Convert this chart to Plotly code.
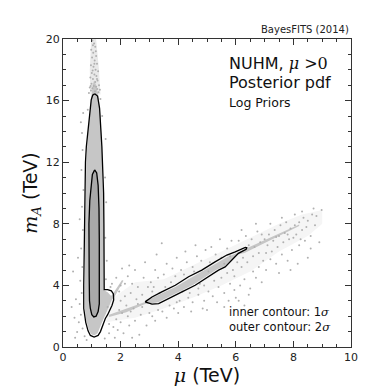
import plotly.graph_objects as go

# ---- 2-sigma contour of the vertical (mu ~ 1 TeV) region ----
vert_outer_mu = [1.10, 1.20, 1.27, 1.31, 1.35, 1.38, 1.41, 1.42, 1.43, 1.43, 1.43, 1.55, 1.68, 1.75, 1.76,
                 1.70, 1.62, 1.55, 1.47, 1.38, 1.30, 1.22, 1.08, 0.95, 0.87, 0.79, 0.74, 0.72, 0.72,
                 0.73, 0.75, 0.76, 0.78, 0.81, 0.86, 0.92, 0.98, 1.03, 1.10]
vert_outer_mA = [16.45, 16.3, 15.5, 14.5, 13.0, 11.5, 10.0, 8.0, 6.0, 4.5, 3.72, 3.72, 3.65, 3.45, 3.05,
                 2.70, 2.35, 2.10, 1.85, 1.40, 1.00, 0.75, 0.65, 0.75, 1.05, 1.60, 2.10, 2.50, 4.00,
                 6.00, 8.00, 10.0, 12.0, 13.0, 14.0, 15.2, 16.05, 16.35, 16.45]

# ---- 1-sigma contour of the vertical region ----
vert_inner_mu = [1.10, 1.17, 1.22, 1.25, 1.26, 1.27, 1.27, 1.26, 1.22, 1.15, 1.07, 1.00, 0.95, 0.92,
                 0.91, 0.90, 0.90, 0.93, 0.97, 1.02, 1.10]
vert_inner_mA = [11.5, 11.3, 10.5, 9.0, 7.0, 5.0, 3.5, 2.8, 2.3, 2.0, 1.95, 2.1, 2.5, 3.0,
                 4.5, 6.0, 8.0, 9.5, 10.5, 11.2, 11.5]

# ---- 2-sigma contour of the diagonal region ----
diag_outer_mu = [2.85, 3.09, 3.43, 3.90, 4.36, 4.82, 5.28, 5.69, 5.98, 6.33, 6.38, 6.36, 6.09, 5.86,
                 5.63, 5.40, 5.05, 4.59, 4.13, 3.66, 3.32, 3.09, 2.85]
diag_outer_mA = [2.93, 3.25, 3.58, 4.01, 4.56, 4.99, 5.53, 5.97, 6.18, 6.47, 6.45, 6.35, 6.08, 5.64,
                 5.20, 4.99, 4.56, 4.01, 3.58, 3.15, 2.82, 2.78, 2.93]

# ---- outlines of the dense parts of the sample cloud ----
vert_cloud_mu = [1.08, 1.15, 1.24, 1.30, 1.35, 1.38, 1.40, 1.41, 1.41, 1.41, 1.55, 1.68, 1.68, 1.60,
                 1.50, 1.40, 1.30, 1.20, 1.08, 0.97, 0.88, 0.80, 0.76, 0.75, 0.76, 0.77, 0.79, 0.81,
                 0.86, 0.93, 0.99, 1.03, 1.08]
vert_cloud_mA = [17.3, 17.0, 16.2, 15.0, 13.0, 11.0, 9.0, 7.0, 5.0, 3.7, 3.55, 3.3, 3.0, 2.6,
                 2.2, 1.8, 1.3, 0.9, 0.75, 0.85, 1.2, 1.8, 2.4, 4.0, 6.0, 8.0, 10.0, 12.0,
                 13.8, 15.2, 16.3, 17.0, 17.3]

diag_cloud_mu = [1.60, 2.20, 2.90, 3.10, 3.45, 3.90, 4.40, 4.85, 5.30, 5.70, 6.00, 6.30, 6.90, 7.50, 8.20,
                 8.20, 7.50, 6.90, 6.30, 6.05, 5.85, 5.60, 5.35, 5.00, 4.55, 4.10, 3.65, 3.30, 3.00,
                 2.85, 2.20, 1.60, 1.60]
diag_cloud_mA = [2.10, 2.50, 2.95, 3.20, 3.50, 3.90, 4.45, 4.90, 5.40, 5.85, 6.07, 6.35, 6.85, 7.35, 7.95,
                 7.85, 7.20, 6.65, 6.10, 6.00, 5.68, 5.25, 5.05, 4.62, 4.08, 3.65, 3.22, 2.90, 2.83,
                 2.80, 2.25, 1.95, 2.10]

streak_cloud_mu = [1.45, 1.75, 2.05, 2.10, 1.80, 1.50, 1.45]
streak_cloud_mA = [2.80, 3.50, 4.35, 4.30, 3.30, 2.60, 2.80]

# sparse-scatter envelopes (faint haze where the scan points thin out)
diag_core_haze_mu = [1.50, 2.50, 3.50, 4.50, 5.50, 6.50, 7.50, 8.50, 9.00, 9.00, 8.30, 7.50, 6.50,
                     5.50, 4.50, 3.50, 2.50, 1.60, 1.50]
diag_core_haze_mA = [1.60, 1.90, 2.50, 3.20, 4.00, 4.90, 6.20, 7.20, 8.00, 8.90, 8.60, 8.00, 7.10,
                     6.20, 5.30, 4.40, 4.20, 3.00, 1.60]
column_top_haze_mu = [0.95, 0.93, 0.98, 1.15, 1.25, 1.30, 0.95]
column_top_haze_mA = [16.4, 18.0, 20.0, 20.0, 18.0, 16.4, 16.4]

# ---- individually visible scan points (mu, m_A) in TeV ----
sparse_points = [
    (1.02, 19.9), (1.08, 19.7), (1.12, 19.5), (0.98, 19.3), (1.05, 19.1), (1.15, 18.9), (1.01, 18.8),
    (1.10, 18.6), (1.18, 18.4), (0.97, 18.3), (1.06, 18.2), (1.13, 18.0), (1.22, 17.9), (1.00, 17.8),
    (1.09, 17.7), (1.16, 17.6), (0.95, 17.5), (1.04, 17.4), (1.20, 17.3), (1.12, 17.2), (0.99, 17.1),
    (1.25, 17.0), (1.07, 16.95), (1.15, 16.9), (0.93, 16.85), (1.02, 16.8), (1.19, 16.75), (1.28, 16.7),
    (0.97, 16.65), (1.11, 16.6), (1.23, 16.55), (0.90, 16.5), (1.04, 19.6), (1.14, 19.2), (1.09, 18.4),
    (1.03, 17.95), (1.18, 17.4), (0.96, 16.95),
    (0.62, 14.6), (0.66, 13.9), (0.70, 15.2), (0.68, 12.8), (0.64, 11.5), (0.71, 10.2), (0.66, 9.1),
    (0.69, 7.6), (0.63, 6.4), (0.67, 5.2), (0.60, 4.3), (0.65, 3.5), (0.58, 2.8), (0.62, 2.1),
    (0.55, 1.6), (0.68, 1.2), (0.49, 0.98), (0.75, 0.7), (0.82, 0.45), (0.40, 1.9), (0.45, 3.1),
    (0.52, 5.8), (0.35, 4.9), (0.58, 8.3), (1.48, 13.5), (1.46, 11.0), (1.50, 9.4), (1.47, 7.1),
    (1.52, 5.6), (1.49, 4.4), (0.86, 15.4), (1.30, 16.1), (1.36, 15.0), (0.30, 2.6), (0.42, 0.6),
    (1.45, 0.55), (1.60, 0.9), (1.75, 1.3), (1.90, 1.1), (2.10, 0.9), (2.30, 1.4), (2.00, 1.6),
    (1.85, 1.8), (2.25, 2.0), (2.50, 1.7), (2.70, 2.1), (2.45, 2.5), (2.20, 2.7), (2.00, 3.0),
    (1.95, 3.6), (2.15, 3.3), (2.35, 3.5), (2.55, 3.1), (2.75, 3.4), (2.60, 3.9), (2.40, 4.1),
    (2.25, 4.6), (2.00, 4.0), (1.85, 4.5), (1.70, 4.1), (2.80, 4.5), (2.95, 3.9), (2.85, 5.5),
    (2.50, 5.0), (2.30, 5.3), (2.05, 5.1), (1.60, 1.5), (1.55, 2.6), (2.90, 1.4), (2.65, 0.8),
    (3.00, 2.2), (1.95, 2.4), (2.40, 0.6), (1.80, 0.6), (2.15, 4.1), (2.60, 2.8), (2.90, 3.0),
    (3.10, 2.0), (3.30, 2.4), (1.65, 3.9), (2.05, 2.2), (2.35, 2.3), (2.75, 2.6),
    (3.05, 4.2), (3.20, 5.0), (3.43, 6.73), (3.10, 3.6), (3.30, 4.5), (3.50, 4.7), (3.60, 5.4),
    (3.80, 5.1), (3.90, 4.6), (3.70, 2.7), (3.45, 2.3), (3.85, 2.5), (3.20, 1.7), (3.60, 1.9),
    (3.95, 2.9), (3.15, 3.9), (3.75, 4.2), (3.55, 3.9), (3.35, 3.5), (3.95, 5.8), (3.25, 6.0),
    (4.05, 3.0), (4.20, 2.6), (4.35, 3.2), (4.50, 2.9), (4.70, 3.4), (4.90, 3.0), (4.10, 5.0),
    (4.30, 5.5), (4.50, 5.2), (4.65, 5.9), (4.80, 5.6), (4.95, 6.3), (4.25, 6.2), (4.60, 6.6),
    (4.15, 3.6), (4.40, 3.5), (4.75, 4.1), (4.90, 4.0), (4.00, 2.2), (4.45, 2.3), (4.85, 2.5),
    (4.55, 4.9), (4.20, 4.7), (4.70, 3.8),
    (5.05, 3.6), (5.20, 3.3), (5.40, 3.9), (5.60, 3.5), (5.80, 4.1), (5.95, 3.7), (5.10, 5.5),
    (5.30, 6.0), (5.50, 5.8), (5.70, 6.4), (5.85, 6.9), (5.15, 6.5), (5.45, 7.0), (5.25, 4.3),
    (5.50, 4.5), (5.70, 4.8), (5.90, 5.0), (5.35, 2.9), (5.75, 3.0), (6.00, 3.2), (5.60, 5.4),
    (5.95, 4.6), (5.05, 4.9), (5.80, 5.9), (5.00, 2.4), (5.60, 2.6), (6.30, 2.7),
    (6.10, 3.0), (6.15, 4.0), (6.30, 4.4), (6.50, 3.8), (6.70, 4.5), (6.90, 4.2), (6.20, 5.2),
    (6.40, 5.5), (6.60, 5.9), (6.80, 6.1), (6.95, 5.6), (6.10, 6.9), (6.35, 7.2), (6.55, 7.0),
    (6.75, 7.5), (6.90, 7.3), (6.45, 6.6), (6.65, 6.5), (6.85, 6.8), (6.25, 5.8), (6.60, 4.9),
    (6.05, 5.5), (6.45, 3.4), (6.80, 5.2), (6.20, 7.6), (6.70, 8.0),
    (7.05, 5.0), (7.20, 5.7), (7.40, 5.4), (7.60, 6.0), (7.80, 5.6), (7.95, 6.3), (7.10, 6.6),
    (7.30, 6.9), (7.50, 7.2), (7.70, 7.4), (7.90, 7.7), (7.15, 7.3), (7.35, 7.6), (7.55, 7.9),
    (7.75, 8.1), (7.25, 6.2), (7.45, 6.5), (7.65, 6.8), (7.85, 7.0), (7.00, 7.0), (7.20, 8.0),
    (7.50, 4.8), (7.90, 5.0), (7.60, 8.4), (7.05, 6.1), (7.40, 7.15), (7.80, 7.3),
    (8.05, 7.9), (8.20, 8.1), (8.35, 8.4), (8.50, 8.2), (8.65, 8.6), (8.80, 8.5), (8.98, 8.9),
    (8.10, 7.3), (8.30, 7.6), (8.45, 7.8), (8.60, 7.2), (8.75, 7.9), (8.20, 6.6), (8.40, 6.9),
    (8.60, 6.4), (8.15, 5.4), (8.50, 5.8), (8.90, 6.8), (8.05, 8.6), (8.30, 8.8), (8.70, 9.0),
    (8.25, 7.0), (8.00, 7.1),
]
sparse_mu = [p[0] for p in sparse_points]
sparse_mA = [p[1] for p in sparse_points]

x_ticks = [0, 2, 4, 6, 8, 10]
y_ticks = [0, 4, 8, 12, 16, 20]

CLOUD = "#c6c6c6"
POINT = "#b0b0b0"
INNER = "#a9a9a9"
FONT = "DejaVu Sans"

fig = go.Figure()


def poly(xs, ys, fillcolor):
    fig.add_trace(go.Scatter(x=xs, y=ys, mode="lines", fill="toself", fillcolor=fillcolor,
                             line=dict(width=0, color=fillcolor), hoverinfo="skip", showlegend=False))


poly(diag_core_haze_mu, diag_core_haze_mA, "#f5f5f5")
poly(column_top_haze_mu, column_top_haze_mA, "#e9e9e9")
poly(vert_cloud_mu, vert_cloud_mA, CLOUD)
poly(diag_cloud_mu, diag_cloud_mA, CLOUD)
poly(streak_cloud_mu, streak_cloud_mA, CLOUD)

fig.add_trace(go.Scatter(x=sparse_mu, y=sparse_mA, mode="markers",
                         marker=dict(size=2, color=POINT, line=dict(width=0)),
                         hoverinfo="skip", showlegend=False))

# inner (1 sigma) filled region
fig.add_trace(go.Scatter(x=vert_inner_mu, y=vert_inner_mA, mode="lines", fill="toself",
                         fillcolor=INNER, line=dict(color="black", width=1.3),
                         hoverinfo="skip", showlegend=False))
# outer (2 sigma) contours
for xs, ys in [(vert_outer_mu, vert_outer_mA), (diag_outer_mu, diag_outer_mA)]:
    fig.add_trace(go.Scatter(x=xs, y=ys, mode="lines", line=dict(color="black", width=1.3),
                             hoverinfo="skip", showlegend=False))

axis_common = dict(
    showline=True, linecolor="#333333", linewidth=1, mirror="ticks",
    ticks="inside", ticklen=6, tickcolor="#333333", tickwidth=1,
    showgrid=False, zeroline=False,
    tickfont=dict(family=FONT, size=11, color="#222222"),
)

fig.update_xaxes(range=[0, 10], tickvals=x_ticks, ticktext=[str(v) for v in x_ticks],
                 minor=dict(ticks="inside", ticklen=3, dtick=0.5, tickcolor="#333333", showgrid=False),
                 title=dict(text="<span style=\"font-family:DejaVu Serif\"><i>μ</i></span> (TeV)",
                            font=dict(family=FONT, size=19, color="#111111"), standoff=0),
                 **axis_common)
fig.update_yaxes(range=[0, 20], tickvals=y_ticks, ticktext=[str(v) for v in y_ticks],
                 minor=dict(ticks="inside", ticklen=3, dtick=1, tickcolor="#333333", showgrid=False),
                 title=dict(text="<span style=\"font-family:DejaVu Serif\"><i>m</i><sub><i>A</i></sub></span> (TeV)",
                            font=dict(family=FONT, size=19, color="#111111"), standoff=3),
                 **axis_common)

# page has an 8px body margin, so the figure is drawn 8px in from the window edge
OFF = 8
W = H = 390 - OFF
L, T = 63 - OFF, 39 - OFF
R = W - (351 - OFF)
B = H - (347 - OFF)
pw, ph = W - L - R, H - T - B

annotations = [
    dict(text="BayesFITS (2014)", x=1.0, y=1.0, xref="paper", yref="paper", xanchor="right",
         yanchor="bottom", yshift=2, showarrow=False, font=dict(family=FONT, size=10, color="#222222")),
    dict(text="NUHM, <span style=\"font-family:DejaVu Serif\"><i>μ</i> >0</span>", x=227, y=63, xanchor="left",
         yanchor="middle", showarrow=False, font=dict(family=FONT, size=16, color="#111111")),
    dict(text="Posterior pdf", x=227, y=82, xanchor="left", yanchor="middle", showarrow=False,
         font=dict(family=FONT, size=16, color="#111111")),
    dict(text="Log Priors", x=227, y=102, xanchor="left", yanchor="middle", showarrow=False,
         font=dict(family=FONT, size=12.5, color="#111111")),
    dict(text="inner contour: 1<span style=\"font-family:DejaVu Serif\"><i>σ</i></span>", x=227, y=312,
         xanchor="left", yanchor="middle", showarrow=False, font=dict(family=FONT, size=11.5, color="#111111")),
    dict(text="outer contour: 2<span style=\"font-family:DejaVu Serif\"><i>σ</i></span>", x=227, y=327,
         xanchor="left", yanchor="middle", showarrow=False, font=dict(family=FONT, size=11.5, color="#111111")),
]
for a in annotations:
    if a.get("xref") != "paper":
        a["x"] = (a["x"] - OFF - L) / pw
        a["y"] = 1 - (a["y"] - OFF - T) / ph
        a["xref"] = "paper"
        a["yref"] = "paper"

fig.update_layout(
    width=W, height=H, margin=dict(l=L, r=R, t=T, b=B, autoexpand=False),
    paper_bgcolor="white", plot_bgcolor="white",
    annotations=annotations, showlegend=False,
    font=dict(family=FONT),
)

fig.write_html("out.html")
